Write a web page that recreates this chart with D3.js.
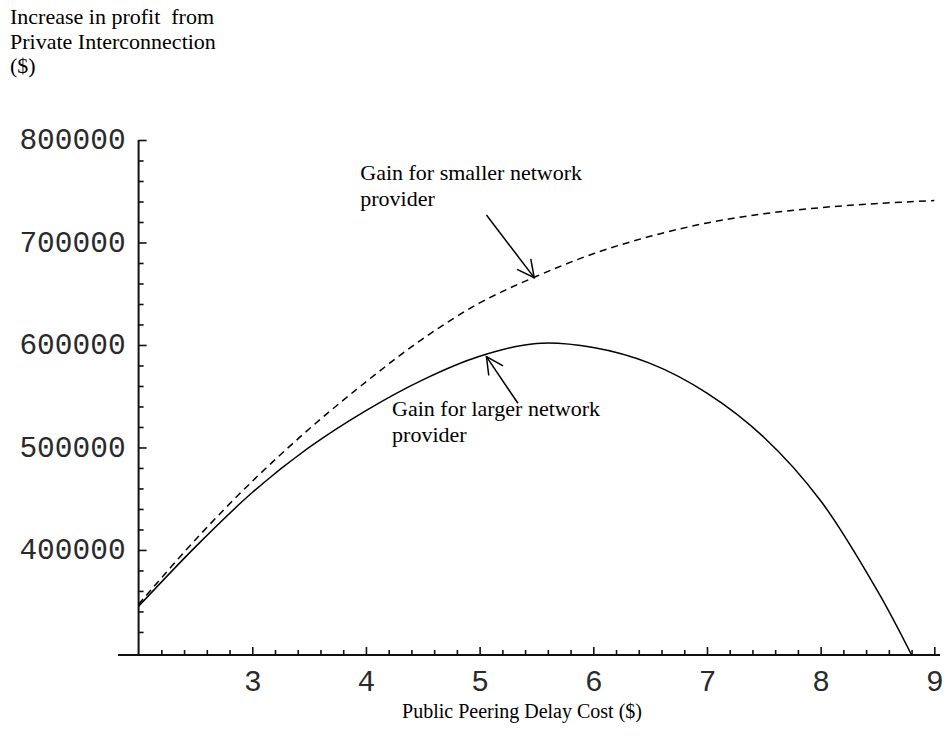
<!DOCTYPE html>
<html><head><meta charset="utf-8">
<script src="https://cdn.jsdelivr.net/npm/d3@7"></script>
<style>body{margin:0;background:#fff} svg{display:block}</style>
</head><body>
<svg id="c" width="947" height="740"></svg>
<script>
// ---- data ----
const xLarger = [2, 2.5, 3, 3.5, 4, 4.5, 5, 5.5, 6, 6.5, 7, 7.5, 8, 8.5, 8.8];
const gainLarger = [345000, 403000, 456000, 500000, 536000, 566000, 589000, 601500, 597500, 582000, 553000, 510000, 448000, 360000, 297500];
const xSmaller = [2, 2.5, 3, 3.5, 4, 4.5, 5, 5.5, 6, 6.5, 7, 7.5, 8, 8.5, 9];
const gainSmaller = [347000, 410000, 467000, 518000, 564000, 606000, 641000, 667000, 689000, 706000, 719000, 728000, 734000, 738000, 741000];
const xTickValues = [3, 4, 5, 6, 7, 8, 9];
const xTickLabels = ["3", "4", "5", "6", "7", "8", "9"];
const yTickValues = [400000, 500000, 600000, 700000, 800000];
const yTickLabels = ["400000", "500000", "600000", "700000", "800000"];
const yAxisTitle = ["Increase in profit  from", "Private Interconnection", "($)"];
const xAxisTitle = "Public Peering Delay Cost ($)";
const annotSmallerText = ["Gain for smaller network", "provider"];
const annotSmallerTextAt = [3.95, 761000];
const annotSmallerArrow = [[5.06, 726800], [5.48, 665700]];
const annotLargerText = ["Gain for larger network", "provider"];
const annotLargerTextAt = [4.23, 530500];
const annotLargerArrow = [[5.337, 543100], [5.06, 588600]];

// ---- layout ----
const svg = d3.select("#c");
const x = d3.scaleLinear().domain([2, 9.05]).range([138.6, 940]);
const y = d3.scaleLinear().domain([297500, 800000]).range([655, 140]);
const tickFont = "'Liberation Mono', 'Courier New', monospace";
const serif = "'Liberation Serif', 'Times New Roman', serif";

// x axis
const xMinor = d3.range(11, 46).filter(i => i % 5 !== 0).map(i => i / 5);
const gx = svg.append("g").attr("transform", `translate(0,${y(297500)})`);
gx.call(d3.axisBottom(x).tickValues(xTickValues).tickFormat((d, i) => xTickLabels[i])
  .tickSizeInner(-8).tickSizeOuter(0).tickPadding(15));
const gxm = svg.append("g").attr("transform", `translate(0,${y(297500)})`);
gxm.call(d3.axisBottom(x).tickValues(xMinor).tickFormat("").tickSizeInner(-5).tickSizeOuter(0));

// y axis
const yMinor = d3.range(16, 40).filter(i => i % 5 !== 0).map(i => i * 20000);
const gy = svg.append("g").attr("transform", `translate(${x(2)},0)`);
gy.call(d3.axisLeft(y).tickValues(yTickValues).tickFormat((d, i) => yTickLabels[i])
  .tickSizeInner(-8).tickSizeOuter(0).tickPadding(13));
const gym = svg.append("g").attr("transform", `translate(${x(2)},0)`);
gym.call(d3.axisLeft(y).tickValues(yMinor).tickFormat("").tickSizeInner(-5).tickSizeOuter(0));

svg.selectAll(".domain").remove();
svg.selectAll(".tick line").attr("stroke", "#111").attr("stroke-width", 1.6);
svg.selectAll(".tick text").attr("font-family", tickFont).attr("font-size", 29.5)
  .attr("fill", "#2a2a2a");
gy.selectAll(".tick text").attr("dy", "0.29em");

svg.append("line").attr("x1", 118).attr("x2", x(9.05)).attr("y1", y(297500)).attr("y2", y(297500))
  .attr("stroke", "#111").attr("stroke-width", 2);
svg.append("line").attr("x1", x(2)).attr("x2", x(2)).attr("y1", y(800000)).attr("y2", y(297500))
  .attr("stroke", "#111").attr("stroke-width", 2);

// curves
const line = d3.line().x(d => x(d[0])).y(d => y(d[1])).curve(d3.curveCatmullRom.alpha(0.5));
svg.append("path").datum(xLarger.map((v, i) => [v, gainLarger[i]]))
  .attr("d", line).attr("fill", "none").attr("stroke", "#000").attr("stroke-width", 1.5);
svg.append("path").datum(xSmaller.map((v, i) => [v, gainSmaller[i]]))
  .attr("d", line).attr("fill", "none").attr("stroke", "#000").attr("stroke-width", 1.5)
  .attr("stroke-dasharray", "7,5");

// titles
svg.append("text").attr("font-family", serif).attr("font-size", 22).attr("fill", "#000")
  .style("white-space", "pre")
  .selectAll("tspan").data(yAxisTitle).join("tspan")
  .attr("x", 10).attr("y", (d, i) => 24 + i * 24.5).text(d => d);
svg.append("text").attr("font-family", serif).attr("font-size", 20).attr("fill", "#000")
  .attr("text-anchor", "middle").attr("x", 522).attr("y", 718).text(xAxisTitle);

// annotations
function annotate(lines, at, arrow) {
  svg.append("text").attr("font-family", serif).attr("font-size", 22).attr("fill", "#000")
    .selectAll("tspan").data(lines).join("tspan")
    .attr("x", x(at[0])).attr("y", (d, i) => y(at[1]) + i * 26).text(d => d);
  const [x0, y0] = [x(arrow[0][0]), y(arrow[0][1])];
  const [x1, y1] = [x(arrow[1][0]), y(arrow[1][1])];
  const ang = Math.atan2(y0 - y1, x0 - x1);
  const L = 19, a = 27 * Math.PI / 180;
  const g = svg.append("g").attr("stroke", "#000").attr("stroke-width", 1.5).attr("fill", "none");
  g.append("line").attr("x1", x0).attr("y1", y0).attr("x2", x1).attr("y2", y1);
  g.append("path").attr("d",
    `M${x1 + L * Math.cos(ang + a)},${y1 + L * Math.sin(ang + a)}L${x1},${y1}L${x1 + L * Math.cos(ang - a)},${y1 + L * Math.sin(ang - a)}`);
}
annotate(annotSmallerText, annotSmallerTextAt, annotSmallerArrow);
annotate(annotLargerText, annotLargerTextAt, annotLargerArrow);
</script>
</body></html>
